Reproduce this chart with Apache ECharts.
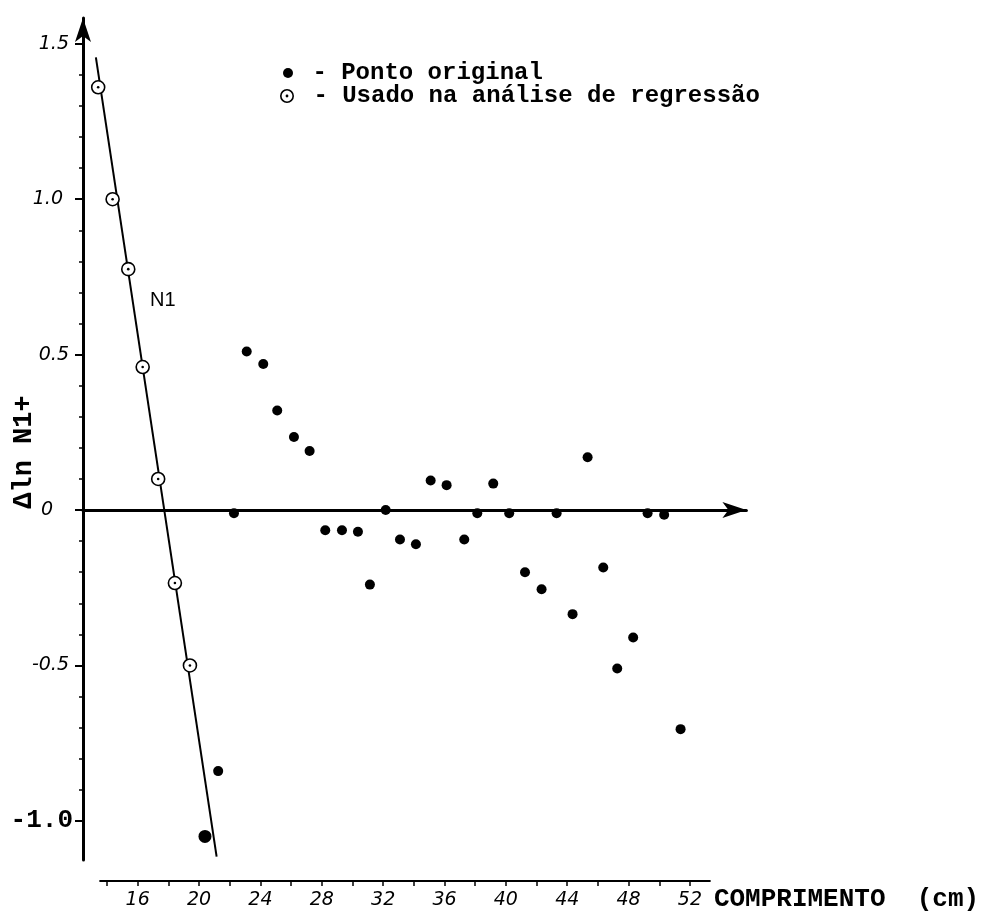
<!DOCTYPE html>
<html>
<head>
<meta charset="utf-8">
<script src="https://cdn.jsdelivr.net/npm/echarts@6/dist/echarts.min.js"></script>
<style>
  html, body { margin: 0; padding: 0; background: #fff; }
  #chart { width: 986px; height: 920px; }
</style>
</head>
<body>
<div id="chart"></div>
<script>
// Comprimento (cm) e Δln N1+ dos pontos usados na regressão
const lenRegression = [13.43, 14.37, 15.39, 16.33, 17.34, 18.43, 19.41];
const deltaRegression = [1.36, 1.0, 0.775, 0.46, 0.10, -0.235, -0.50];

// Pontos originais
const lenOriginal = [20.39, 21.25, 22.28, 23.11, 24.19, 25.10, 26.19, 27.21, 28.23, 29.32,
  30.36, 31.14, 32.17, 33.10, 34.14, 35.10, 36.14, 37.29, 38.14, 39.18, 40.22, 41.25,
  42.33, 43.31, 44.35, 45.33, 46.35, 47.26, 48.30, 49.24, 50.32, 51.39];
const deltaOriginal = [-1.05, -0.84, -0.01, 0.51, 0.47, 0.32, 0.235, 0.19, -0.065, -0.065,
  -0.07, -0.24, 0.0, -0.095, -0.11, 0.095, 0.08, -0.095, -0.01, 0.085, -0.01, -0.20,
  -0.255, -0.01, -0.335, 0.17, -0.185, -0.51, -0.41, -0.01, -0.015, -0.705];

// Reta de regressão N1 (extremos)
const fitLen = [13.28, 21.15];
const fitDelta = [1.456, -1.115];

// Marcas dos eixos
const xTickValues = [14, 16, 18, 20, 22, 24, 26, 28, 30, 32, 34, 36, 38, 40, 42, 44, 46, 48, 50, 52];
const xLabelValues = [16, 20, 24, 28, 32, 36, 40, 44, 48, 52];
const yLabelValues = [-1.0, -0.5, 0, 0.5, 1.0, 1.5];
const yMinorValues = [-0.9, -0.8, -0.7, -0.6, -0.4, -0.3, -0.2, -0.1, 0.1, 0.2, 0.3, 0.4,
  0.6, 0.7, 0.8, 0.9, 1.1, 1.2, 1.3, 1.4];

const legendNames = ['Ponto original', 'Usado na análise de regressão'];
const yName = 'Δln N1+';
const xName = 'COMPRIMENTO  (cm)';

const zip = (a, b) => a.map((v, i) => [v, b[i]]);

const monoBold = { fontFamily: "'Liberation Mono', 'Courier New', monospace", fontWeight: 'bold', color: '#000' };
const ringIcon = 'path://M7,0A7,7,0,1,1,6.99,0ZM7,1.6A5.4,5.4,0,1,0,7.01,1.6ZM7,5.6A1.4,1.4,0,1,1,6.99,5.6Z';

const Y_MIN = -1.126, Y_MAX = 1.583;

const chart = echarts.init(document.getElementById('chart'), null, { renderer: 'canvas' });

chart.setOption({
  backgroundColor: '#fff',
  animation: false,
  grid: [
    { left: 83, top: 18, width: 663.4, bottom: 60, containLabel: false, outerBoundsMode: 'none' },
    { left: 100.1, width: 609.8, top: 800, bottom: 39, containLabel: false, outerBoundsMode: 'none' }
  ],
  legend: [
    {
      data: [{ name: legendNames[0], icon: 'circle', itemStyle: { color: '#000' } }],
      left: 283, top: 61, padding: 0, itemWidth: 10, itemHeight: 10,
      selectedMode: false,
      formatter: n => ' - ' + n,
      textStyle: Object.assign({ fontSize: 24 }, monoBold)
    },
    {
      data: [{ name: legendNames[1], icon: ringIcon, itemStyle: { color: '#000', borderWidth: 0 } }],
      left: 280, top: 84, padding: 0, itemWidth: 14, itemHeight: 14,
      selectedMode: false,
      formatter: n => ' - ' + n,
      textStyle: Object.assign({ fontSize: 24 }, monoBold)
    }
  ],
  xAxis: [
    {
      // linha do zero com seta
      gridIndex: 0, type: 'value', min: 12.44, max: 55.68,
      axisLine: { show: true, onZero: true, symbol: ['none', 'arrow'], symbolSize: [12, 24],
        lineStyle: { color: '#000', width: 3 } },
      axisTick: { show: false }, axisLabel: { show: false }, splitLine: { show: false }
    },
    {
      // eixo do comprimento
      gridIndex: 1, type: 'value', min: 13.55, max: 53.3, position: 'bottom',
      name: xName, nameLocation: 'end', nameGap: 4, nameMoveOverlap: false,
      nameTextStyle: Object.assign({ fontSize: 26, align: 'left', verticalAlign: 'top', padding: [5, 0, 0, 0] }, monoBold),
      axisLine: { show: true, onZero: false, lineStyle: { color: '#000', width: 2 } },
      axisTick: { show: true, length: 5, customValues: xTickValues, lineStyle: { color: '#000', width: 1.5 } },
      axisLabel: { show: true, customValues: xLabelValues, margin: 10, color: '#000',
        fontFamily: 'DejaVu Sans', fontStyle: 'italic', fontSize: 19 },
      splitLine: { show: false }
    }
  ],
  yAxis: [
    {
      gridIndex: 0, type: 'value', min: Y_MIN, max: Y_MAX, position: 'left',
      name: yName, nameLocation: 'middle', nameRotate: 90, nameGap: 45, nameMoveOverlap: false,
      nameTextStyle: Object.assign({ fontSize: 27, padding: [0, 26, 0, 0] }, monoBold),
      axisLine: { show: true, symbol: ['none', 'arrow'], symbolSize: [12, 24],
        lineStyle: { color: '#000', width: 3 } },
      axisTick: { show: true, length: 8, customValues: yLabelValues, lineStyle: { color: '#000', width: 2 } },
      axisLabel: {
        show: true, customValues: yLabelValues, margin: 10,
        formatter: v => {
          if (Math.abs(v + 1) < 1e-9) return '{b|-1.0}';
          if (Math.abs(v) < 1e-9) return '{z|0}';
          if (Math.abs(v - 1) < 1e-9) return '{w|1.0}';
          return '{n|' + v.toFixed(1) + '}';
        },
        rich: {
          n: { fontFamily: 'DejaVu Sans', fontStyle: 'italic', fontSize: 19, color: '#000', padding: [0, 4, 0, 0] },
          w: { fontFamily: 'DejaVu Sans', fontStyle: 'italic', fontSize: 19, color: '#000', padding: [0, 10, 0, 0] },
          z: { fontFamily: 'DejaVu Sans', fontStyle: 'italic', fontSize: 19, color: '#000', padding: [0, 20, 0, 0] },
          b: Object.assign({ fontSize: 26 }, monoBold)
        }
      },
      splitLine: { show: false }
    },
    {
      // marcas menores a cada 0.1
      gridIndex: 0, type: 'value', min: Y_MIN, max: Y_MAX, position: 'left', offset: 0,
      axisLine: { show: false },
      axisTick: { show: true, length: 4, customValues: yMinorValues, lineStyle: { color: '#000', width: 1.5 } },
      axisLabel: { show: false }, splitLine: { show: false }
    },
    {
      gridIndex: 1, type: 'value', min: 0, max: 1, show: false
    }
  ],
  series: [
    {
      name: 'N1', type: 'line', xAxisIndex: 0, yAxisIndex: 0,
      data: zip(fitLen, fitDelta), symbol: 'none', silent: true, z: 2,
      lineStyle: { color: '#000', width: 2 }
    },
    {
      name: legendNames[1], type: 'scatter', xAxisIndex: 0, yAxisIndex: 0,
      data: zip(lenRegression, deltaRegression), symbol: 'circle', symbolSize: 13, z: 3,
      itemStyle: { color: '#fff', borderColor: '#000', borderWidth: 1.6, opacity: 1 }
    },
    {
      name: legendNames[1], type: 'scatter', xAxisIndex: 0, yAxisIndex: 0,
      data: zip(lenRegression, deltaRegression), symbol: 'circle', symbolSize: 2.6, z: 4,
      itemStyle: { color: '#000', opacity: 1 }
    },
    {
      name: legendNames[0], type: 'scatter', xAxisIndex: 0, yAxisIndex: 0,
      data: zip(lenOriginal, deltaOriginal), symbol: 'circle', z: 4,
      symbolSize: (val, params) => (params.dataIndex === 0 ? 13 : 10),
      itemStyle: { color: '#000', opacity: 1 }
    }
  ],
  graphic: [
    {
      type: 'text', left: 150, top: 290, silent: true,
      style: { text: 'N1', fontFamily: 'Liberation Sans', fontSize: 20, fill: '#000' }
    }
  ]
});
</script>
</body>
</html>
